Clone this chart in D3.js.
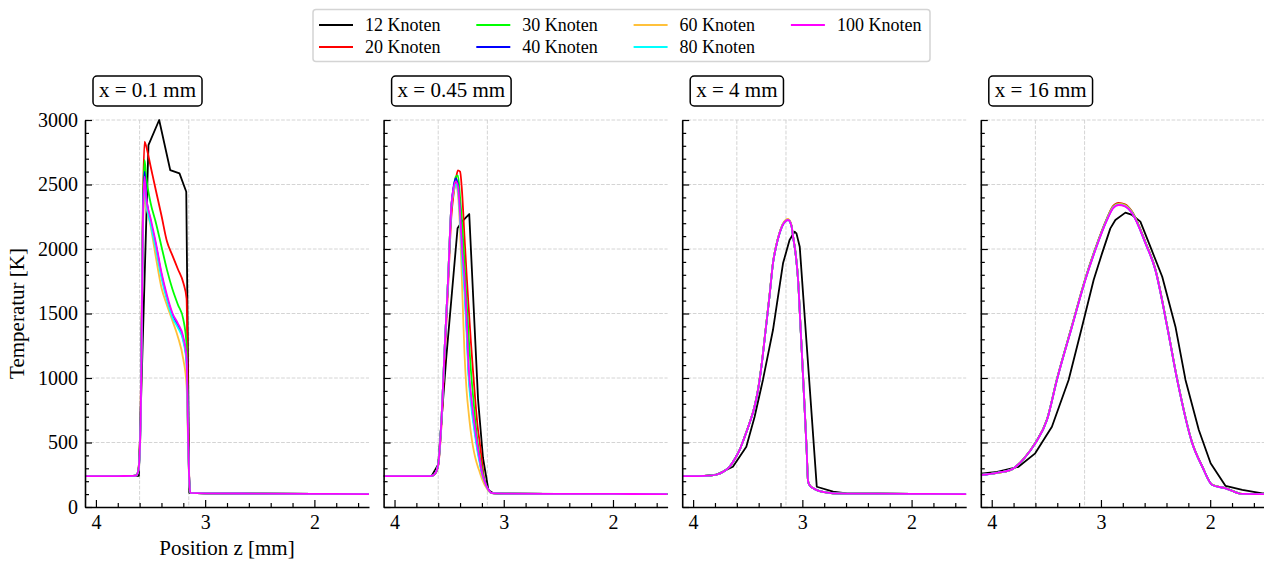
<!DOCTYPE html>
<html>
<head>
<meta charset="utf-8">
<script src="https://cdn.jsdelivr.net/npm/d3@7"></script>
<style>
  body { margin: 0; background: #fff; }
  text { font-family: "Liberation Serif", "Times New Roman", serif; fill: #000; }
</style>
</head>
<body>
<svg id="chart" width="1264" height="563"></svg>
<script>
// ---- series ----
const seriesNames  = ["12 Knoten", "20 Knoten", "30 Knoten", "40 Knoten", "60 Knoten", "80 Knoten", "100 Knoten"];
const seriesColors = ["#000000", "#ff0000", "#00ff00", "#0000ff", "#ffc13b", "#00ffff", "#ff00ff"];
const panelTitles  = ["x = 0.1 mm", "x = 0.45 mm", "x = 4 mm", "x = 16 mm"];

// ---- axes ----
const zDomain  = [4.1, 1.5];
const xMajor   = [4, 3, 2];
const xMinor   = [3.8, 3.6, 3.4, 3.2, 2.8, 2.6, 2.4, 2.2, 1.8, 1.6];
const xGrid    = [3.6, 3.15];
const yMajor   = [0, 500, 1000, 1500, 2000, 2500, 3000];
const yMinor   = d3.range(100, 3000, 100).filter(v => v % 500 !== 0);

// ---- panel 1 : x = 0.1 mm ----
const zFine1 = [4.10, 3.80, 3.66, 3.63, 3.61, 3.59, 3.57, 3.555, 3.54, 3.50, 3.45, 3.40, 3.35, 3.30, 3.25, 3.20, 3.17, 3.155, 3.145, 3.135, 3.00, 2.50, 2.00, 1.50];
const t20_1  = [240, 240, 241, 245, 300, 800, 2350, 2832, 2797, 2643, 2450, 2260, 2060, 1950, 1845, 1738, 1615, 600, 210, 110, 106, 104, 102, 100];
const t30_1  = [240, 240, 241, 245, 300, 740, 2300, 2690, 2560, 2360, 2200, 2020, 1840, 1690, 1570, 1455, 1250, 550, 200, 110, 106, 104, 102, 100];
const t40_1  = [240, 240, 241, 245, 290, 690, 2220, 2600, 2420, 2220, 2025, 1800, 1625, 1490, 1408, 1300, 1135, 490, 198, 110, 106, 104, 102, 100];
const t60_1  = [240, 240, 241, 245, 285, 660, 2150, 2400, 2330, 2180, 1930, 1700, 1565, 1445, 1320, 1145, 940, 450, 180, 110, 106, 104, 102, 100];
const t80_1  = [240, 240, 241, 245, 285, 680, 2180, 2530, 2370, 2195, 1995, 1775, 1605, 1470, 1390, 1285, 1115, 480, 195, 110, 106, 104, 102, 100];
const t100_1 = [240, 240, 241, 245, 290, 700, 2200, 2560, 2400, 2240, 2044, 1818, 1643, 1504, 1424, 1318, 1150, 500, 200, 110, 106, 104, 102, 100];
const zBlack1 = [4.10, 3.70, 3.607, 3.519, 3.421, 3.32, 3.235, 3.173, 3.145, 3.00, 2.50, 2.00, 1.50];
const t12_1   = [240, 240, 242, 2805, 3000, 2612, 2586, 2444, 110, 106, 104, 102, 100];

// ---- panel 2 : x = 0.45 mm ----
const zFine2 = [4.10, 3.80, 3.70, 3.66, 3.63, 3.60, 3.57, 3.54, 3.51, 3.48, 3.46, 3.44, 3.42, 3.40, 3.38, 3.36, 3.34, 3.32, 3.30, 3.28, 3.26, 3.24, 3.22, 3.20, 3.18, 3.16, 3.14, 3.11, 3.00, 2.50, 2.00, 1.50];
const t20_2  = [240, 240, 240, 241, 255, 320, 640, 1180, 1700, 2250, 2420, 2530, 2610, 2600, 2420, 2100, 1800, 1530, 1270, 1040, 820, 630, 500, 360, 220, 165, 133, 107, 104, 102, 101, 100];
const t30_2  = [240, 240, 240, 242, 258, 330, 680, 1250, 1760, 2330, 2460, 2560, 2570, 2400, 2180, 1900, 1600, 1300, 1050, 850, 660, 510, 395, 300, 215, 165, 133, 107, 104, 102, 101, 100];
const t40_2  = [240, 240, 240, 242, 258, 330, 680, 1250, 1760, 2330, 2480, 2548, 2500, 2260, 1950, 1730, 1400, 1020, 840, 690, 565, 450, 355, 265, 208, 164, 133, 107, 104, 102, 101, 100];
const t60_2  = [240, 240, 240, 242, 258, 330, 680, 1250, 1760, 2320, 2440, 2500, 2430, 2150, 1680, 1200, 900, 720, 570, 460, 380, 320, 270, 220, 180, 150, 125, 107, 104, 102, 101, 100];
const t80_2  = [240, 240, 240, 242, 258, 330, 680, 1250, 1760, 2320, 2450, 2500, 2460, 2230, 1900, 1680, 1350, 980, 800, 660, 540, 430, 340, 260, 205, 162, 132, 107, 104, 102, 101, 100];
const t100_2 = [240, 240, 240, 242, 258, 330, 680, 1250, 1760, 2330, 2470, 2525, 2490, 2280, 1980, 1780, 1450, 1060, 870, 720, 590, 470, 370, 270, 210, 165, 133, 107, 104, 102, 101, 100];
const zBlack2 = [4.10, 3.75, 3.66, 3.60, 3.527, 3.423, 3.383, 3.316, 3.235, 3.19, 3.14, 3.09, 2.50, 2.00, 1.50];
const t12_2   = [240, 240, 241, 330, 1150, 2160, 2212, 2271, 830, 380, 130, 105, 102, 101, 100];

// ---- panel 3 : x = 4 mm ----
const zFine3 = [4.10, 3.95, 3.85, 3.79, 3.72, 3.666, 3.62, 3.574, 3.53, 3.484, 3.44, 3.406, 3.37, 3.336, 3.30, 3.269, 3.24, 3.209, 3.17, 3.131, 3.10, 3.085, 3.06, 3.039, 3.02, 3.00, 2.98, 2.96, 2.948, 2.93, 2.90, 2.85, 2.80, 2.72, 2.50, 2.00, 1.50];
const t20_3  = [240, 240, 243, 250, 275, 312, 370, 442, 540, 650, 772, 910, 1125, 1378, 1645, 1892, 2024, 2124, 2204, 2229, 2184, 2098, 1953, 1762, 1452, 1122, 782, 432, 202, 166, 145, 125, 115, 106, 104, 102, 100];
const t30_3  = [240, 240, 243, 250, 275, 312, 370, 442, 540, 650, 771, 909, 1123, 1375, 1643, 1891, 2022, 2123, 2202, 2227, 2182, 2097, 1952, 1761, 1451, 1121, 781, 431, 201, 165, 145, 125, 115, 106, 104, 102, 100];
const t40_3  = [240, 240, 243, 250, 275, 312, 370, 442, 540, 649, 770, 908, 1121, 1373, 1641, 1890, 2021, 2122, 2201, 2226, 2181, 2096, 1951, 1760, 1450, 1120, 780, 430, 200, 165, 145, 125, 115, 106, 104, 102, 100];
const t60_3  = [240, 240, 243, 250, 275, 312, 370, 443, 541, 651, 773, 911, 1126, 1379, 1647, 1895, 2027, 2128, 2208, 2233, 2186, 2099, 1954, 1763, 1453, 1123, 783, 433, 203, 166, 146, 125, 115, 106, 104, 102, 100];
const t80_3  = [240, 240, 243, 250, 275, 312, 370, 442, 540, 649, 770, 907, 1120, 1372, 1640, 1889, 2020, 2121, 2200, 2225, 2180, 2095, 1950, 1760, 1450, 1120, 780, 430, 200, 165, 145, 125, 115, 106, 104, 102, 100];
const t100_3 = [240, 240, 243, 250, 275, 312, 370, 442, 540, 649, 770, 907, 1120, 1372, 1640, 1889, 2020, 2121, 2200, 2225, 2180, 2095, 1950, 1760, 1450, 1120, 780, 430, 200, 165, 145, 125, 115, 106, 104, 102, 100];
const zBlack3 = [4.10, 3.90, 3.79, 3.636, 3.513, 3.437, 3.361, 3.269, 3.177, 3.117, 3.071, 3.054, 3.024, 2.868, 2.718, 2.595, 2.00, 1.50];
const t12_3   = [240, 241, 250, 312, 467, 700, 985, 1372, 1889, 2070, 2134, 2121, 2018, 157, 119, 106, 102, 100];

// ---- panel 4 : x = 16 mm ----
const zFine4 = [4.10, 3.95, 3.816, 3.70, 3.602, 3.494, 3.403, 3.265, 3.143, 3.051, 2.944, 2.89, 2.838, 2.78, 2.715, 2.593, 2.502, 2.394, 2.302, 2.164, 2.072, 1.981, 1.859, 1.706, 1.50];
const t20_4  = [248, 264, 292, 382, 496, 680, 992, 1408, 1772, 2006, 2240, 2332, 2358, 2346, 2290, 2054, 1845, 1404, 990, 496, 314, 172, 146, 102, 100];
const t30_4  = [248, 264, 292, 381, 495, 678, 990, 1405, 1768, 2002, 2236, 2327, 2352, 2341, 2286, 2051, 1843, 1403, 989, 495, 313, 172, 146, 102, 100];
const t40_4  = [248, 265, 292, 380, 494, 676, 987, 1401, 1764, 1997, 2231, 2321, 2346, 2335, 2281, 2047, 1840, 1400, 987, 494, 312, 171, 145, 101, 100];
const t60_4  = [248, 264, 292, 381, 495, 677, 988, 1403, 1766, 2000, 2234, 2325, 2350, 2339, 2284, 2049, 1841, 1401, 988, 494, 313, 172, 145, 101, 100];
const t80_4  = [248, 265, 292, 380, 493, 675, 986, 1400, 1762, 1995, 2228, 2318, 2344, 2332, 2279, 2045, 1838, 1399, 986, 493, 312, 171, 145, 101, 100];
const t100_4 = [248, 265, 292, 380, 493, 674, 985, 1398, 1760, 1992, 2225, 2315, 2341, 2330, 2277, 2044, 1837, 1398, 985, 493, 312, 171, 145, 101, 100];
const zBlack4 = [4.10, 3.95, 3.755, 3.602, 3.449, 3.296, 3.173, 3.067, 2.990, 2.914, 2.868, 2.776, 2.715, 2.639, 2.548, 2.439, 2.318, 2.226, 2.104, 1.996, 1.859, 1.706, 1.523, 1.50];
const t12_4   = [258, 272, 312, 416, 622, 985, 1398, 1760, 1966, 2160, 2225, 2282, 2264, 2212, 2018, 1785, 1398, 985, 597, 339, 163, 132, 106, 105];

const panels = [
  { title: panelTitles[0], zFine: zFine1, fine: [t20_1, t30_1, t40_1, t60_1, t80_1, t100_1], zBlack: zBlack1, black: t12_1 },
  { title: panelTitles[1], zFine: zFine2, fine: [t20_2, t30_2, t40_2, t60_2, t80_2, t100_2], zBlack: zBlack2, black: t12_2 },
  { title: panelTitles[2], zFine: zFine3, fine: [t20_3, t30_3, t40_3, t60_3, t80_3, t100_3], zBlack: zBlack3, black: t12_3 },
  { title: panelTitles[3], zFine: zFine4, fine: [t20_4, t30_4, t40_4, t60_4, t80_4, t100_4], zBlack: zBlack4, black: t12_4 }
];

// ---- layout ----
const firstLeft = 85, panelStep = 298.6, panelW = 284;
const plotTop = 120, plotBottom = 507;

const svg = d3.select("#chart");
const y = d3.scaleLinear().domain([0, 3000]).range([plotBottom, plotTop]);

panels.forEach((p, i) => {
  const left = firstLeft + i * panelStep;
  const x = d3.scaleLinear().domain(zDomain).range([0, panelW]);
  const g = svg.append("g").attr("transform", `translate(${left},0)`);

  // grid
  const grid = g.append("g").attr("stroke", "#cfcfcf").attr("stroke-width", 0.9).attr("stroke-dasharray", "3.7,1.6");
  grid.selectAll("line.h").data(yMajor.filter(v => v > 0)).join("line")
    .attr("x1", 0).attr("x2", panelW).attr("y1", d => y(d)).attr("y2", d => y(d));
  grid.selectAll("line.v").data(xGrid).join("line")
    .attr("x1", d => x(d)).attr("x2", d => x(d)).attr("y1", plotTop).attr("y2", plotBottom);

  // curves
  const clipId = "clip" + i;
  g.append("clipPath").attr("id", clipId).append("rect")
    .attr("x", 0).attr("y", plotTop - 3).attr("width", panelW).attr("height", plotBottom - plotTop + 3);
  const lines = g.append("g").attr("clip-path", `url(#${clipId})`).attr("fill", "none")
    .attr("stroke-width", 1.8).attr("stroke-linejoin", "round");

  const blackLine = d3.line().x(d => x(d[0])).y(d => y(d[1])).curve(d3.curveLinear);
  const fineLine  = d3.line().x(d => x(d[0])).y(d => y(d[1])).curve(d3.curveMonotoneX);

  lines.append("path").attr("stroke", seriesColors[0])
    .attr("d", blackLine(p.zBlack.map((z, j) => [z, p.black[j]])));
  p.fine.forEach((vals, k) => {
    lines.append("path").attr("stroke", seriesColors[k + 1])
      .attr("d", fineLine(p.zFine.map((z, j) => [z, vals[j]])));
  });

  // axes (ticks pointing inward)
  g.append("g").attr("transform", `translate(0,${plotBottom})`)
    .call(d3.axisBottom(x).tickValues(xMajor).tickFormat(d3.format("d")).tickSize(-7).tickPadding(8).tickSizeOuter(0));
  g.append("g").attr("transform", `translate(0,${plotBottom})`)
    .call(d3.axisBottom(x).tickValues(xMinor).tickFormat("").tickSize(-4).tickSizeOuter(0))
    .call(s => s.select(".domain").remove());
  g.append("g")
    .call(d3.axisLeft(y).tickValues(yMajor).tickFormat(i === 0 ? d3.format("d") : "").tickSize(-7).tickPadding(7).tickSizeOuter(0));
  g.append("g")
    .call(d3.axisLeft(y).tickValues(yMinor).tickFormat("").tickSize(-4).tickSizeOuter(0))
    .call(s => s.select(".domain").remove());

  g.selectAll(".tick line").attr("stroke", "#000").attr("stroke-width", 1.2);
  g.selectAll(".domain").attr("stroke", "#000").attr("stroke-width", 1.6);
  g.selectAll(".tick text").attr("font-size", 20).attr("font-family", "Liberation Serif, serif");

  // boxed panel title
  const tg = g.append("g");
  const tt = tg.append("text").attr("x", 14).attr("y", 97).attr("font-size", 21).text(p.title);
  const tw = tt.node().getComputedTextLength();
  tg.insert("rect", "text").attr("x", 8).attr("y", 76).attr("width", tw + 12).attr("height", 30)
    .attr("rx", 4).attr("fill", "#fff").attr("stroke", "#000").attr("stroke-width", 1.5);
});

// axis labels
svg.append("text").attr("transform", "translate(24,313.5) rotate(-90)")
  .attr("text-anchor", "middle").attr("font-size", 21).text("Temperatur [K]");
svg.append("text").attr("x", firstLeft + panelW / 2).attr("y", 555)
  .attr("text-anchor", "middle").attr("font-size", 21).text("Position z [mm]");

// legend
const legend = svg.append("g");
legend.append("rect").attr("x", 313).attr("y", 9.5).attr("width", 617).attr("height", 52)
  .attr("rx", 3).attr("fill", "#fff").attr("stroke", "#d4d4d4").attr("stroke-width", 1.5);
seriesNames.forEach((name, k) => {
  const col = Math.floor(k / 2), row = k % 2;
  const lx = 319 + col * 157.3, ly = 25 + row * 22;
  legend.append("line").attr("x1", lx).attr("x2", lx + 34).attr("y1", ly).attr("y2", ly)
    .attr("stroke", seriesColors[k]).attr("stroke-width", 1.8);
  legend.append("text").attr("x", lx + 46).attr("y", ly).attr("dy", "0.35em")
    .attr("font-size", 18).text(name);
});
</script>
</body>
</html>
